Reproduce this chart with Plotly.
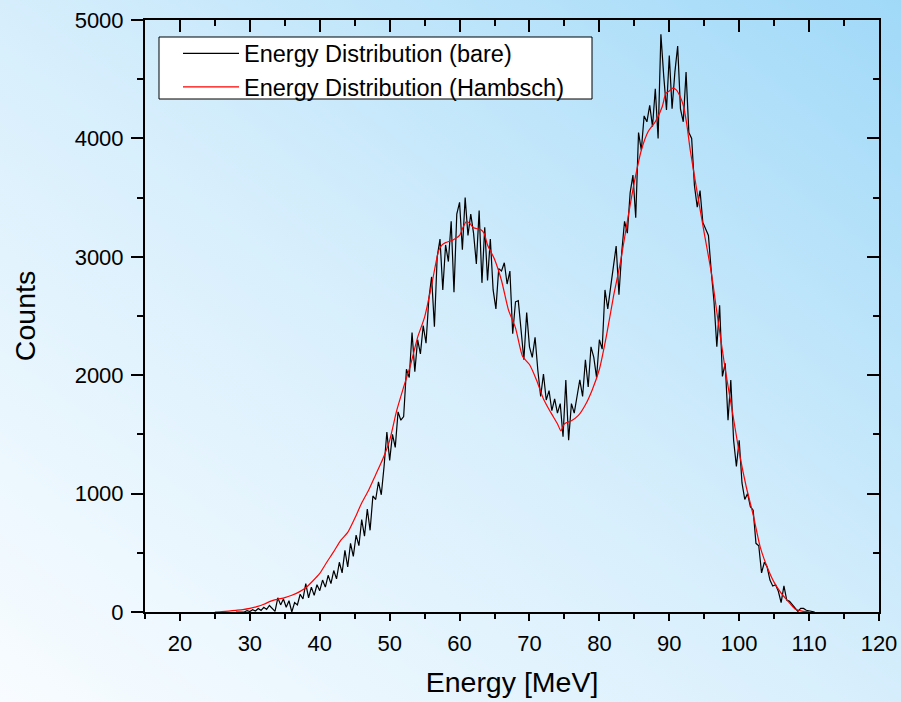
import base64
import plotly.graph_objects as go

# ---------------- data ----------------
bare_energy = [
    28.0, 28.4, 28.8, 29.2, 29.6, 30.0, 30.4, 30.8, 31.2, 31.6,
    32.0, 32.4, 32.8, 33.2, 33.6, 34.0, 34.4, 34.8, 35.2, 35.6,
    36.0, 36.4, 36.8, 37.2, 37.6, 38.0, 38.4, 38.8, 39.2, 39.6,
    40.0, 40.4, 40.8, 41.2, 41.6, 42.0, 42.4, 42.8, 43.2, 43.6,
    44.0, 44.4, 44.8, 45.2, 45.6, 46.0, 46.4, 46.8, 47.2, 47.6,
    48.0, 48.4, 48.8, 49.2, 49.6, 50.0, 50.4, 50.8, 51.2, 51.6,
    52.0, 52.4, 52.8, 53.2, 53.6, 54.0, 54.4, 54.8, 55.2, 55.6,
    56.0, 56.4, 56.8, 57.2, 57.6, 58.0, 58.4, 58.8, 59.2, 59.6,
    60.0, 60.4, 60.8, 61.2, 61.6, 62.0, 62.4, 62.8, 63.2, 63.6,
    64.0, 64.4, 64.8, 65.2, 65.6, 66.0, 66.4, 66.8, 67.2, 67.6,
    68.0, 68.4, 68.8, 69.2, 69.6, 70.0, 70.4, 70.8, 71.2, 71.6,
    72.0, 72.4, 72.8, 73.2, 73.6, 74.0, 74.4, 74.8, 75.2, 75.6,
    76.0, 76.4, 76.8, 77.2, 77.6, 78.0, 78.4, 78.8, 79.2, 79.6,
    80.0, 80.4, 80.8, 81.2, 81.6, 82.0, 82.4, 82.8, 83.2, 83.6,
    84.0, 84.4, 84.8, 85.2, 85.6, 86.0, 86.4, 86.8, 87.2, 87.6,
    88.0, 88.4, 88.8, 89.2, 89.6, 90.0, 90.4, 90.8, 91.2, 91.6,
    92.0, 92.4, 92.8, 93.2, 93.6, 94.0, 94.4, 94.8, 95.2, 95.6,
    96.0, 96.4, 96.8, 97.2, 97.6, 98.0, 98.4, 98.8, 99.2, 99.6,
    100.0, 100.4, 100.8, 101.2, 101.6, 102.0, 102.4, 102.8, 103.2, 103.6,
    104.0, 104.4, 104.8, 105.2, 105.6, 106.0, 106.4, 106.8, 107.2, 107.6,
    108.0, 108.4, 108.8, 109.2, 109.6, 110.0, 110.4, 110.8,
]
bare_counts = [
    0, 0, 5, 0, 12, 4, 20, 8, 30, 14,
    40, 22, 55, 30, 5, 120, 60, 110, 40, 95,
    0, 80, 60, 150, 110, 240, 120, 210, 140, 230,
    180, 270, 210, 310, 240, 350, 280, 420, 330, 520,
    380, 580, 470, 650, 560, 780, 640, 870, 690, 980,
    950, 1100, 990, 1230, 1520, 1280, 1500, 1390, 1690, 1620,
    1650, 2050, 1980, 2360, 2030, 2300, 2180, 2420, 2270, 2640,
    2830, 2410, 3000, 3150, 2720, 3100, 2960, 3300, 2700, 3360,
    3460, 3060, 3500, 3180, 3360, 3200, 2940, 3390, 2780, 3250,
    2800, 3150, 2720, 2560, 2900, 2880, 2950, 2770, 2880, 2350,
    2620, 2630, 2400, 2130, 2530, 2240, 2150, 2320, 2040, 1820,
    2010, 1790, 1870, 1700, 1800, 1680, 1760, 1480, 1960, 1450,
    1760, 1680, 1820, 1960, 1820, 2130, 1900, 2240, 2150, 1980,
    2300, 2220, 2720, 2560, 2740, 2900, 3090, 2680, 3040, 3300,
    3200, 3540, 3690, 3330, 4050, 3900, 4190, 4140, 4280, 4100,
    4420, 4000, 4880, 4530, 4240, 4700, 4250, 4560, 4780, 4250,
    4140, 4560, 4050, 4000, 3600, 3420, 3560, 3290, 3230, 3180,
    2880, 2620, 2240, 2590, 1990, 2100, 1620, 1960, 1450, 1230,
    1450, 1090, 950, 1000, 890, 860, 580, 560, 330, 420,
    380, 270, 220, 230, 175, 80, 220, 100, 90, 60,
    40, 5, 30, 30, 15, 10, 0, 0,
]

hambsch_energy = [
    25, 26, 27, 28, 29, 30, 31, 32, 33, 34, 35, 36, 37, 38, 39, 40,
    41, 42, 43, 44, 45, 46, 47, 48, 49, 50, 51, 52, 53, 54, 55, 56,
    57, 57.5, 58, 59, 60, 60.5, 61, 61.5, 62, 63, 63.5, 64, 65, 66,
    67, 68, 69, 70, 71, 72, 73, 74, 74.5, 75, 76, 77, 78, 79, 80,
    81, 82, 83, 84, 85, 86, 87, 88, 89, 89.5, 90, 90.5, 91, 91.5,
    92, 92.5, 93, 94, 95, 96, 97, 98, 99, 100, 101, 102, 103, 104,
    105, 106, 107, 108, 109, 110,
]
hambsch_counts = [
    0, 3, 8, 14, 20, 30, 45, 65, 92, 108, 122, 142, 168, 205, 262, 326,
    420, 510, 605, 672, 790, 920, 1030, 1160, 1290, 1450, 1700, 1900, 2090, 2320, 2490, 2760,
    3050, 3100, 3120, 3140, 3180, 3250, 3300, 3280, 3245, 3230, 3200, 3100, 2980, 2800,
    2550, 2400, 2160, 2090, 1960, 1800, 1690, 1590, 1530, 1590, 1615, 1660, 1750, 1880, 2050,
    2330, 2660, 2950, 3300, 3630, 3900, 4060, 4140, 4270, 4380, 4400, 4425, 4410, 4360,
    4280, 4120, 3900, 3540, 3200, 2870, 2450, 2050, 1700, 1350, 1060, 820, 550, 380,
    250, 160, 90, 25, 8, 2,
]

series_names = ["Energy Distribution (bare)", "Energy Distribution (Hambsch)"]
x_tick_values = [20, 30, 40, 50, 60, 70, 80, 90, 100, 110, 120]
x_minor_values = [15, 25, 35, 45, 55, 65, 75, 85, 95, 105, 115]
y_tick_values = [0, 1000, 2000, 3000, 4000, 5000]
y_minor_values = [500, 1500, 2500, 3500, 4500]
x_range = [15, 120]
y_range = [0, 5000]
x_title = "Energy [MeV]"
y_title = "Counts"

# ---------------- styling ----------------
FONT = "Liberation Sans, Arial, Helvetica, sans-serif"
W, H = 901, 702
ML, MR, MT, MB = 145, 22, 20, 90
PW, PH = W - ML - MR, H - MT - MB


def px_to_paper_x(px):
    return (px - ML) / PW


def px_to_paper_y(py):
    return (H - MB - py) / PH


svg = (
    '<svg xmlns="http://www.w3.org/2000/svg" width="901" height="702" '
    'viewBox="0 0 901 702" preserveAspectRatio="none">'
    '<defs><linearGradient id="g" x1="0" y1="1" x2="1" y2="0">'
    '<stop offset="0" stop-color="#f8fcff"/>'
    '<stop offset="0.5" stop-color="#d6eefc"/>'
    '<stop offset="1" stop-color="#a0d9f8"/>'
    '</linearGradient></defs>'
    '<rect width="901" height="702" fill="url(#g)"/></svg>'
)
bg_src = "data:image/svg+xml;base64," + base64.b64encode(svg.encode()).decode()

fig = go.Figure()
fig.add_trace(go.Scatter(
    x=bare_energy, y=bare_counts, mode="lines", name=series_names[0],
    line=dict(color="black", width=1.2),
))
fig.add_trace(go.Scatter(
    x=hambsch_energy, y=hambsch_counts, mode="lines", name=series_names[1],
    line=dict(color="#ff0000", width=1.2, shape="spline", smoothing=0.6),
))
# empty trace so that mirrored (top / right) axes get drawn
fig.add_trace(go.Scatter(x=[], y=[], xaxis="x2", yaxis="y2",
                         showlegend=False, hoverinfo="skip"))

tickfont = dict(family=FONT, size=22, color="black")
axis_common = dict(showline=True, linecolor="black", linewidth=2,
                   showgrid=False, zeroline=False, tickcolor="black",
                   tickwidth=2)

# legend frame (white box with thin black border), legend drawn on top of it
legend_box = dict(
    type="rect", xref="paper", yref="paper",
    x0=px_to_paper_x(159), x1=px_to_paper_x(592),
    y0=px_to_paper_y(99), y1=px_to_paper_y(37),
    fillcolor="white", line=dict(color="black", width=1), layer="above",
)

fig.update_layout(
    width=W, height=H,
    margin=dict(l=ML, r=MR, t=MT, b=MB, autoexpand=False),
    paper_bgcolor="#dff1fc",
    plot_bgcolor="rgba(0,0,0,0)",
    font=dict(family=FONT, color="black"),
    xaxis=dict(
        range=x_range, tickmode="array", tickvals=x_tick_values,
        ticks="outside", ticklen=7, tickfont=tickfont, ticklabelstandoff=4,
        minor=dict(tickmode="array", tickvals=x_minor_values, ticks="outside",
                   ticklen=5, tickwidth=2, tickcolor="black"),
        title=dict(text=x_title, font=dict(family=FONT, size=28.5), standoff=17),
        **axis_common,
    ),
    yaxis=dict(
        range=y_range, tickmode="array", tickvals=y_tick_values,
        ticks="outside", ticklen=12, tickfont=tickfont, ticklabelstandoff=3,
        minor=dict(tickmode="array", tickvals=y_minor_values, ticks="outside",
                   ticklen=6, tickwidth=2, tickcolor="black"),
        title=dict(text=y_title, font=dict(family=FONT, size=28.5), standoff=31),
        **axis_common,
    ),
    xaxis2=dict(
        overlaying="x", side="top", anchor="y", range=x_range,
        tickmode="array", tickvals=x_tick_values, showticklabels=False,
        ticks="inside", ticklen=12,
        minor=dict(tickmode="array", tickvals=x_minor_values, ticks="inside",
                   ticklen=6, tickwidth=2, tickcolor="black"),
        **axis_common,
    ),
    yaxis2=dict(
        overlaying="y", side="right", anchor="x", range=y_range,
        tickmode="array", tickvals=y_tick_values, showticklabels=False,
        ticks="inside", ticklen=12,
        minor=dict(tickmode="array", tickvals=y_minor_values, ticks="inside",
                   ticklen=6, tickwidth=2, tickcolor="black"),
        **axis_common,
    ),
    legend=dict(
        x=px_to_paper_x(159), y=px_to_paper_y(70.5),
        xanchor="left", yanchor="middle",
        bgcolor="rgba(0,0,0,0)", borderwidth=0,
        font=dict(family=FONT, size=23.5, color="black"),
        itemwidth=56, indentation=19, tracegroupgap=0,
    ),
    shapes=[legend_box],
    images=[dict(
        source=bg_src, xref="paper", yref="paper",
        x=-ML / PW, y=1 + MT / PH, sizex=W / PW, sizey=H / PH,
        xanchor="left", yanchor="top", sizing="stretch", layer="below",
    )],
    showlegend=True,
)

fig.write_html(
    "out.html",
    config={"displayModeBar": False},
    post_script="document.body.style.margin='0';document.body.style.padding='0';",
)
